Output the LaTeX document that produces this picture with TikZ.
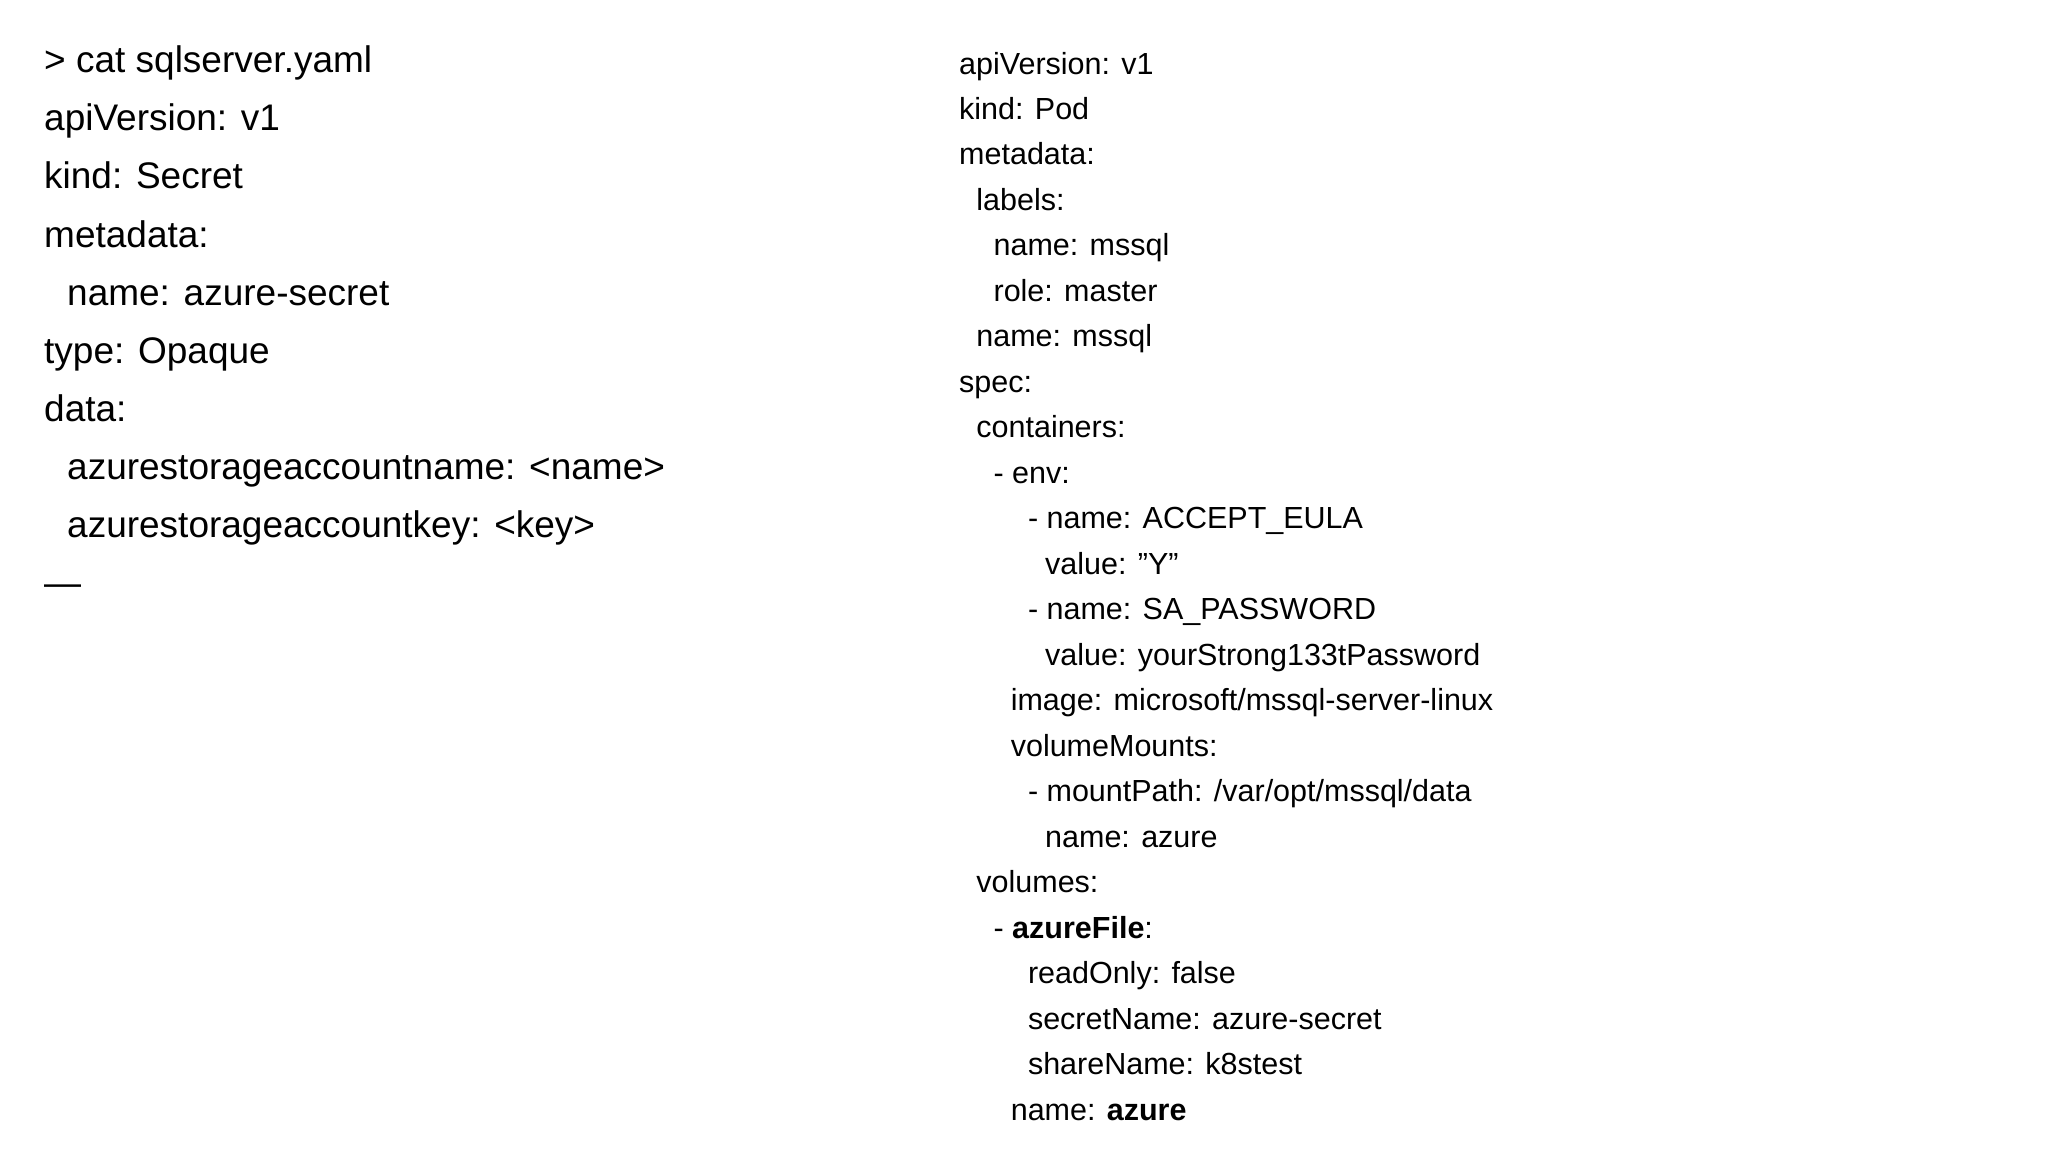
\documentclass[tikz,border=0pt]{standalone}
\usepackage{fontspec}
\setmainfont{Liberation Sans}
\begin{document}
\begin{tikzpicture}[x=1pt,y=-1pt,
  lt/.style={anchor=base west,inner sep=0pt,font=\fontsize{37}{40}\selectfont},
  rt/.style={anchor=base west,inner sep=0pt,font=\fontsize{30.5}{33}\selectfont}]
\useasboundingbox[fill=white] (0,0) rectangle (2048,1152);
\foreach \t/\ind [count=\i from 0] in {{> cat sqlserver.yaml}/0,{apiVersion: v1}/0,{kind: Secret}/0,{metadata:}/0,{name: azure-secret}/1,{type: Opaque}/0,{data:}/0,{azurestorageaccountname: <name>}/1,{azurestorageaccountkey: <key>}/1,{---}/0}
  \node[lt] (l\i) at (44+23*\ind, 72.7+58.1*\i) {\t};
\foreach \t/\ind [count=\i from 0] in {{apiVersion: v1}/0,{kind: Pod}/0,{metadata:}/0,{labels:}/1,{name: mssql}/2,{role: master}/2,{name: mssql}/1,{spec:}/0,{containers:}/1,{- env:}/2,{- name: ACCEPT\_EULA}/4,{value: "Y"}/5,{- name: SA\_PASSWORD}/4,{value: yourStrong133tPassword}/5,{image: microsoft/mssql-server-linux}/3,{volumeMounts:}/3,{- mountPath: /var/opt/mssql/data}/4,{name: azure}/5,{volumes:}/1,{- \textbf{azureFile}:}/2,{readOnly: false}/4,{secretName: azure-secret}/4,{shareName: k8stest}/4,{name: \textbf{azure}}/3}
  \node[rt] (r\i) at (959+17.2*\ind, 74+45.48*\i) {\t};
\end{tikzpicture}
\end{document}
